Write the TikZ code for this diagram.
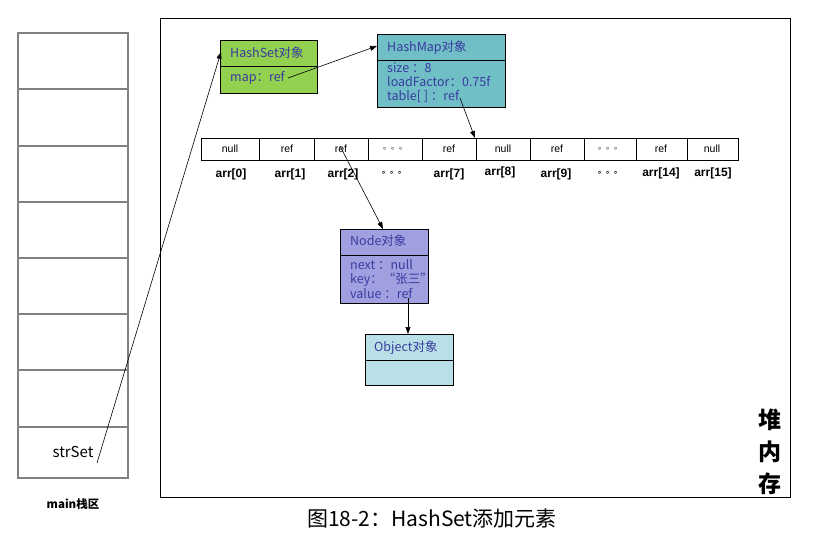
\documentclass[tikz,border=0pt]{standalone}
\usepackage{fontspec}
\setmainfont{Noto Sans CJK SC}
\newfontfamily\arial{Liberation Sans}
\usetikzlibrary{arrows.meta}
\definecolor{hsgreen}{HTML}{92D050}
\definecolor{hmteal}{HTML}{70BFC7}
\definecolor{ndpurple}{HTML}{A0A0E0}
\definecolor{objcyan}{HTML}{B8E0E6}
\definecolor{boxtext}{HTML}{3A3AA0}
\definecolor{stackgray}{HTML}{808080}
\newcommand{\cjkdots}{{\rmfamily\fontsize{8}{10}\selectfont 。。。}}
\tikzset{
  objbox/.style={draw=black, line width=1pt},
  btext/.style={anchor=base west, inner sep=0pt, text=boxtext, font=\fontsize{12.5}{14}\selectfont},
  cell/.style={inner sep=0pt, font=\arial\fontsize{10.5}{12}\selectfont},
  idx/.style={inner sep=0pt, font=\arial\bfseries\fontsize{12}{13}\selectfont},
  ptr/.style={-{Triangle[length=7pt,width=5pt]}, line width=0.6pt},
}
\begin{document}
\begin{tikzpicture}[x=1pt,y=-1pt]
\useasboundingbox (0,0) rectangle (815,538);
% stack
\draw[stackgray, line width=1.5pt] (18,33) rectangle (128,478);
\foreach \yy in {89,146,202,258,314,370,427}
  \draw[stackgray, line width=1.5pt] (18,\yy) -- (128,\yy);
\node[inner sep=0pt, font=\fontsize{15}{17}\selectfont] (strset) at (73,452) {strSet};
\node[inner sep=0pt, font=\bfseries\fontsize{11.5}{13}\selectfont] (mainlbl) at (73,504) {main栈区};
% heap
\draw[line width=0.9pt] (160,18) rectangle (790,497);
\node[inner sep=0pt, font=\bfseries\fontsize{23}{32}\selectfont, align=center] (heaplbl) at (770,452) {堆\\内\\存};
% HashSet
\draw[objbox, fill=hsgreen] (220,40) rectangle (317,93);
\draw[line width=1pt] (220,66) -- (317,66);
\node[btext] (hstitle) at (230,57) {HashSet对象};
\node[btext] (hsmap) at (230,81) {map：ref};
% HashMap
\draw[objbox, fill=hmteal] (377,34) rectangle (505,107);
\draw[line width=1pt] (377,60) -- (505,60);
\node[btext] (hmtitle) at (387,51) {HashMap对象};
\node[btext] (hmsize) at (387,72) {size ：8};
\node[btext] (hmlf) at (387,86) {loadFactor：0.75f};
\node[btext] (hmtab) at (387,100) {table[ ] ：ref};
% array
\def\xs{{201,259,314,368,422,476,530,584,636,687,738}}
\draw[line width=0.7pt] (201,138) rectangle (738,160);
\foreach \i in {1,...,9} {
  \pgfmathsetmacro\xx{\xs[\i]}
  \draw[line width=0.7pt] (\xx,138) -- (\xx,160);
}
\node[cell] (c0) at (230,149) {null};
\node[cell] (c1) at (287,149) {ref};
\node[cell] (c2) at (341,149) {ref};
\node[cell] (c3) at (395,149) {\cjkdots};
\node[cell] (c4) at (449,149) {ref};
\node[cell] (c5) at (503,149) {null};
\node[cell] (c6) at (557,149) {ref};
\node[cell] (c7) at (610,149) {\cjkdots};
\node[cell] (c8) at (661,149) {ref};
\node[cell] (c9) at (712,149) {null};
\node[idx] (a0) at (231,174) {arr[0]};
\node[idx] (a1) at (290,174) {arr[1]};
\node[idx] (a2) at (343,174) {arr[2]};
\node[idx] (a3) at (394,173) {\cjkdots};
\node[idx] (a4) at (449,174) {arr[7]};
\node[idx] (a5) at (500,172) {arr[8]};
\node[idx] (a6) at (556,174) {arr[9]};
\node[idx] (a7) at (610,173) {\cjkdots};
\node[idx] (a8) at (661,173) {arr[14]};
\node[idx] (a9) at (713,173) {arr[15]};
\coordinate (arrtop) at (475,138);
% Node
\draw[objbox, fill=ndpurple] (340,229) rectangle (428,303);
\draw[line width=1pt] (340,255) -- (428,255);
\coordinate (nodetop) at (383,229);
\node[btext] (ndtitle) at (350,245) {Node对象};
\node[btext] (ndnext) at (350,269) {next ：null};
\node[btext] (ndkey) at (350,283) {key：“张三”};
\node[btext] (ndval) at (350,298) {value ：ref};
% Object
\draw[objbox, fill=objcyan] (365,334) rectangle (453,385);
\draw[line width=1pt] (365,360) -- (453,360);
\coordinate (objtop) at (408,334);
\node[btext] (objtitle) at (374,351) {Object对象};
% caption
\node[inner sep=0pt, font=\fontsize{21}{24}\selectfont] (caption) at (432,519) {图18-2：HashSet添加元素};
% pointers
\coordinate (p0) at (97,463);
\coordinate (hsin) at (221,52);
\draw[ptr] (p0) -- (hsin);
\coordinate (p1) at (288,78);
\coordinate (hmin) at (377,46);
\draw[ptr] (p1) -- (hmin);
\coordinate (p2) at (460,98);
\draw[ptr] (p2) -- (arrtop);
\coordinate (p3) at (340,146);
\draw[ptr] (p3) -- (nodetop);
\coordinate (p4) at (408,298);
\draw[ptr] (p4) -- (objtop);
\end{tikzpicture}
\end{document}
